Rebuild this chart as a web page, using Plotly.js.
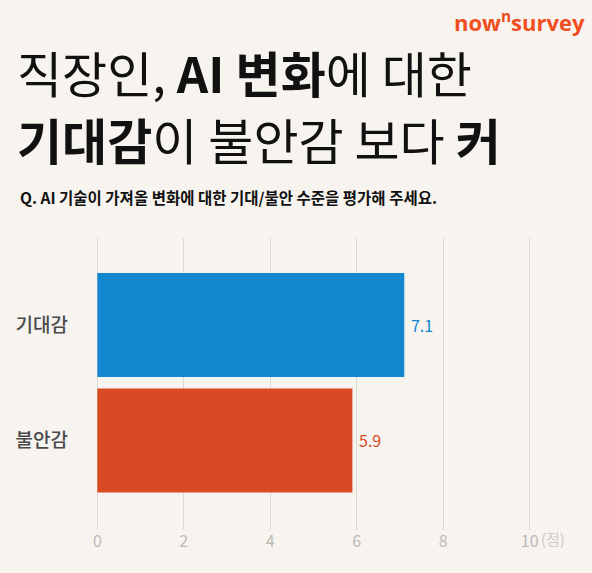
<!DOCTYPE html>
<html><head><meta charset="utf-8">
<script src="https://cdn.plot.ly/plotly-3.0.1.min.js"></script>
<style>html,body{margin:0;padding:0;background:#f7f4ef;}#chart{width:592px;height:573px;}</style>
</head><body><div id="chart"></div>
<script>
const categories = ['기대감', '불안감'];
const values = [7.1, 5.9];
const barColors = ['#1386d0', '#d94a24'];
const xTickVals = [0, 2, 4, 6, 8, 10];
const xTickText = ['0', '2', '4', '6', '8', '10'];
const titleLine1 = '직장인, <b>AI 변화</b>에 대한';
const titleLine2 = '<b>기대감</b>이 불안감 보다 <b>커</b>';
const subtitle = '<b>Q. AI 기술이 가져올 변화에 대한 기대/불안 수준을 평가해 주세요.</b>';
const unitLabel = '(점)';

const KR = '"Noto Sans CJK KR", "Noto Sans", sans-serif';
const W = 592, H = 573;
const x0px = 97, x10px = 530, ext = 0.1, unit = (x10px - x0px) / 10;
const L = x0px - ext * unit, R = W - (x10px + ext * unit), T = 238, B = 43;
const ph = H - T - B, pw = W - L - R;
const py = p => (H - B - p) / ph;
const px = p => (p - L) / pw;

const trace = {
  type: 'bar', orientation: 'h',
  y: categories, x: values,
  marker: {color: barColors},
  width: 0.9,
  texttemplate: ' %{x:.1f}', textposition: 'outside',
  textfont: {family: KR, size: 16, color: barColors},
  cliponaxis: false, hoverinfo: 'skip'
};

const layout = {
  width: W, height: H,
  margin: {l: L, r: R, t: T, b: B, pad: 0},
  paper_bgcolor: '#f7f4ef', plot_bgcolor: '#f7f4ef',
  showlegend: false,
  xaxis: {range: [-ext, 10 + ext], tickvals: xTickVals, ticktext: xTickText,
    showgrid: true, gridcolor: '#dcd8d3', gridwidth: 1.3, zeroline: false, showline: false,
    tickfont: {family: KR, size: 16, color: '#bdbab6'}, ticks: '', ticklabelstandoff: 0, fixedrange: true},
  yaxis: {type: 'category', range: [1.775, -0.753], showgrid: false, zeroline: false, showline: false,
    ticks: '', ticklabelstandoff: 24, tickfont: {family: KR, size: 19, color: '#4a4a4a', weight: 500}},
  annotations: [
    {xref: 'paper', yref: 'paper', x: px(15), y: py(72), xanchor: 'left', yanchor: 'middle',
     text: titleLine1, showarrow: false, font: {family: KR, size: 49, color: '#111111'}},
    {xref: 'paper', yref: 'paper', x: px(15), y: py(138), xanchor: 'left', yanchor: 'middle',
     text: titleLine2, showarrow: false, font: {family: KR, size: 49, color: '#111111'}},
    {xref: 'paper', yref: 'paper', x: px(18), y: py(197), xanchor: 'left', yanchor: 'middle',
     text: subtitle, showarrow: false, font: {family: KR, size: 15.5, color: '#111111'}},
    {xref: 'paper', yref: 'paper', x: px(587), y: py(22), xanchor: 'right', yanchor: 'middle',
     text: '<b>now<sup>n</sup>survey</b>', showarrow: false, font: {family: '"Open Sans", sans-serif', size: 22, color: '#f04e1e'}},
    {xref: 'x', yref: 'paper', x: 10, y: py(538), xanchor: 'left', yanchor: 'middle', xshift: 9,
     text: unitLabel, showarrow: false, font: {family: KR, size: 15, color: '#cfccc8'}}
  ]
};

Plotly.newPlot('chart', [trace], layout, {staticPlot: true, displayModeBar: false});
</script></body></html>
